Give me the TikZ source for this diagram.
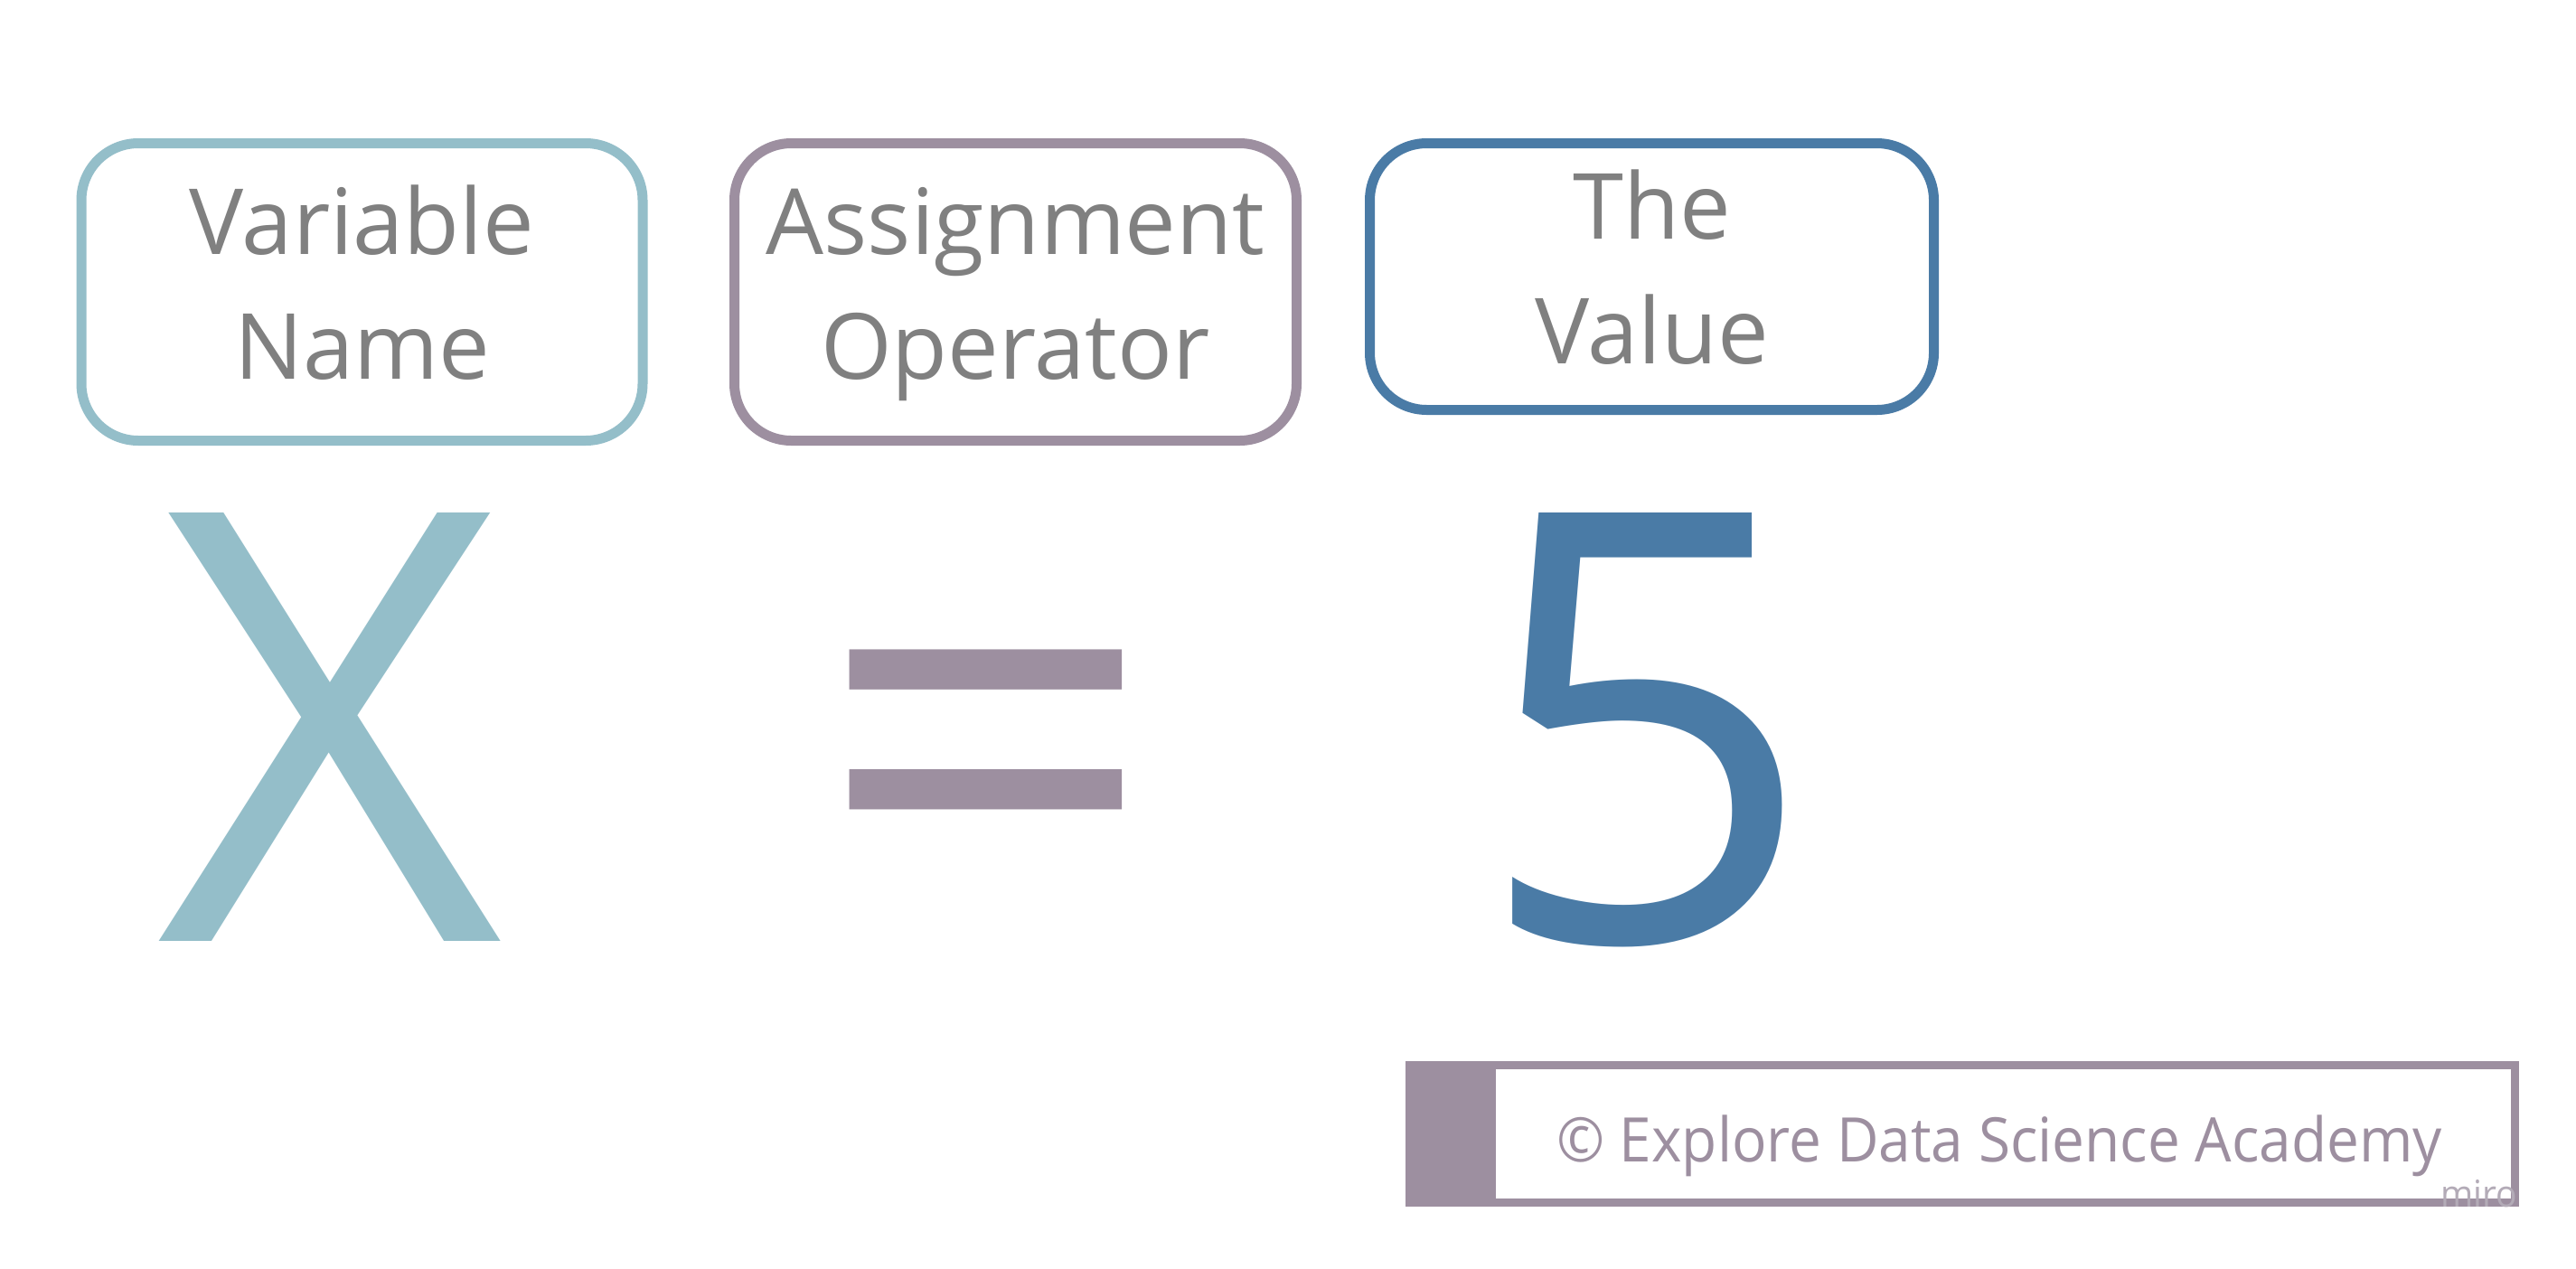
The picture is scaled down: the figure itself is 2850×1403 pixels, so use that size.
\documentclass[tikz,border=0pt]{standalone}
\usepackage{fontspec}
\usepackage{graphicx}
\setmainfont{Open Sans}
\definecolor{cvar}{HTML}{94BEC9}
\definecolor{cop}{HTML}{9D8FA0}
\definecolor{cval}{HTML}{4A7BA6}
\definecolor{txtgray}{HTML}{808080}
\definecolor{mirogray}{HTML}{B3ABB7}
\begin{document}
\begin{tikzpicture}[x=1pt,y=-1pt,
  lbl/.style={inner sep=0pt, anchor=base, text=txtgray, font=\fontsize{101}{120}\selectfont},
  big/.style={inner sep=0pt, anchor=base, font=\fontsize{664}{700}\selectfont},
  frame/.style={draw, line width=11pt, rounded corners=63pt, fill=white, inner sep=0pt}]
\path[use as bounding box, fill=white] (0,0) rectangle (2850,1403);
% boxes
\node[frame, draw=cvar, minimum width=621pt, minimum height=329pt] (boxvar) at (400.5,323) {};
\node[frame, draw=cop, minimum width=622pt, minimum height=329pt] (boxop) at (1123.5,323) {};
\node[frame, draw=cval, minimum width=624pt, minimum height=295pt] (boxval) at (1827.5,306) {};
% labels
\node[lbl] (vn1) at (400.5,281) {Variable};
\node[lbl] (vn2) at (400.5,419) {Name};
\node[lbl] (ao1) at (1123.5,281) {Assignment};
\node[lbl] (ao2) at (1123.5,419) {Operator};
\node[lbl] (tv1) at (1827.5,264) {The};
\node[lbl] (tv2) at (1827.5,402) {Value};
% expression
\node[big, text=cvar] (xsym) at (365,1041) {X};
\node[big, text=cop] (eqsym) at (1091,1041) {=};
\node[big, text=cval] (five) at (1820,1041) {5};
% footer
\node[draw=cop, line width=9pt, minimum width=1223pt, minimum height=152pt, inner sep=0pt] (foot) at (2171,1254.5) {};
\fill[cop] (1555,1174) rectangle (1655,1335);
\node[inner sep=0pt, anchor=base, text=cop, font=\fontsize{68}{80}\selectfont] (copy) at (2212,1285) {\scalebox{0.94}[1]{© Explore Data Science Academy}};
\node[inner sep=0pt, anchor=base east, text=mirogray, font=\fontsize{41}{44}\selectfont] (miro) at (2785,1335) {\scalebox{0.95}[1]{miro}};
\end{tikzpicture}
\end{document}
